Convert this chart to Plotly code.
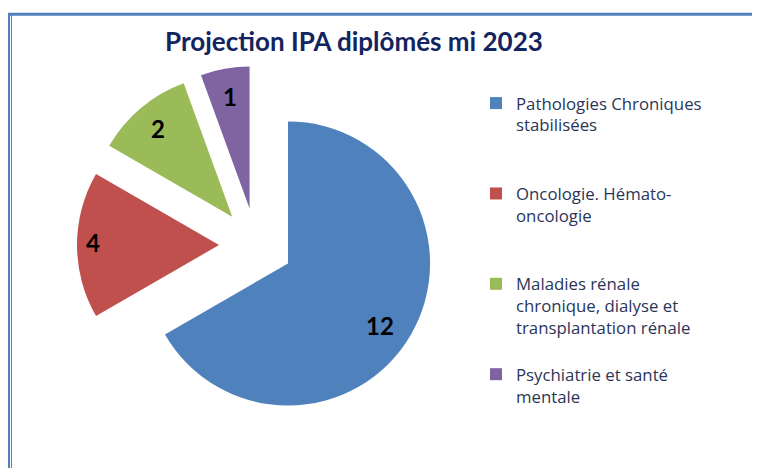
import math
import plotly.graph_objects as go

# ---------------- data ----------------
categories = [
    "Pathologies Chroniques<br>stabilisées",
    "Oncologie. Hémato-<br>oncologie",
    "Maladies rénale<br>chronique, dialyse et<br>transplantation rénale",
    "Psychiatrie et santé<br>mentale",
]
slice_sizes = [12, 3, 2, 1]           # angular share as drawn (240°, 60°, 40°, 20°)
value_labels = ["12", "4", "2", "1"]  # numbers printed on the slices
colors = ["#4F81BD", "#C0504D", "#9BBB59", "#8064A2"]

# ---------------- layout helpers ----------------
# the page body has an 8px margin, so the figure is drawn at (8, 8)
OFF = 8
W, H = 760 - OFF, 468 - OFF


def fx(px):
    return (px - OFF) / W


def fy(py):
    return 1 - (py - OFF) / H


# pie geometry (page pixels)
cx, cy, box = 256, 245, 358
pull = 0.26
r = box / 2 / (1 + pull)

# blank-line padding so the legend entries sit like the original
pad_before = [2, 1, 2, 1]
pad_after = [1, 0, 0, 0]
legend_names = [
    "\u00a0<br>" * b + c + "<br>\u00a0" * a
    for c, b, a in zip(categories, pad_before, pad_after)
]

fig = go.Figure(
    go.Pie(
        labels=legend_names,
        values=slice_sizes,
        textinfo="none",
        marker=dict(colors=colors, line=dict(width=0)),
        pull=[pull] * len(slice_sizes),
        sort=False,
        direction="clockwise",
        rotation=0,
        hoverinfo="skip",
        domain=dict(
            x=[fx(cx - box / 2), fx(cx + box / 2)],
            y=[fy(cy + box / 2), fy(cy - box / 2)],
        ),
    )
)

# value labels near the outer end of each slice (positions derived from the data)
label_depth = [0.78, 0.89, 0.81, 0.80]
label_turn = [4, 1, 0, 0]   # small angular nudge (degrees) of the label within its slice
total = sum(slice_sizes)
start = 0.0
annotations = []
for v, txt, d, t in zip(slice_sizes, value_labels, label_depth, label_turn):
    span = 360.0 * v / total
    mid_deg = start + span / 2
    start += span
    apex_x = cx + pull * r * math.sin(math.radians(mid_deg))
    apex_y = cy - pull * r * math.cos(math.radians(mid_deg))
    a = math.radians(mid_deg + t)
    px_ = apex_x + d * r * math.sin(a)
    py_ = apex_y - d * r * math.cos(a)
    annotations.append(
        dict(
            text=f"<b>{txt}</b>",
            x=fx(px_),
            y=fy(py_),
            xref="paper",
            yref="paper",
            xanchor="center",
            yanchor="middle",
            showarrow=False,
            font=dict(family="Lato", size=24, color="black"),
        )
    )

fig.update_layout(
    width=W,
    height=H,
    margin=dict(l=0, r=0, t=0, b=0),
    paper_bgcolor="white",
    title=dict(
        text="<b>Projection IPA diplômés mi 2023</b>",
        x=fx(354),
        xanchor="center",
        y=fy(42),
        yanchor="middle",
        font=dict(family="Lato", size=26, color="#13245E"),
    ),
    legend=dict(
        x=fx(476),
        xanchor="left",
        y=fy(42),
        yanchor="top",
        font=dict(family="Open Sans", size=16.8, color="#2A3558"),
        itemwidth=30,
        bgcolor="rgba(0,0,0,0)",
    ),
    showlegend=True,
    annotations=annotations,
    shapes=[
        dict(type="line", xref="paper", yref="paper", x0=fx(7), x1=1.02, y0=fy(14.3), y1=fy(14.3),
             line=dict(color="#4F81BD", width=3)),
        dict(type="line", xref="paper", yref="paper", x0=fx(8.8), x1=fx(8.8), y0=fy(13), y1=-0.02,
             line=dict(color="#4F81BD", width=2.5)),
        dict(type="line", xref="paper", yref="paper", x0=fx(11.5), x1=fx(11.5), y0=fy(15), y1=-0.02,
             line=dict(color="#4F81BD", width=1)),
    ],
)

fig.write_html("out.html")
